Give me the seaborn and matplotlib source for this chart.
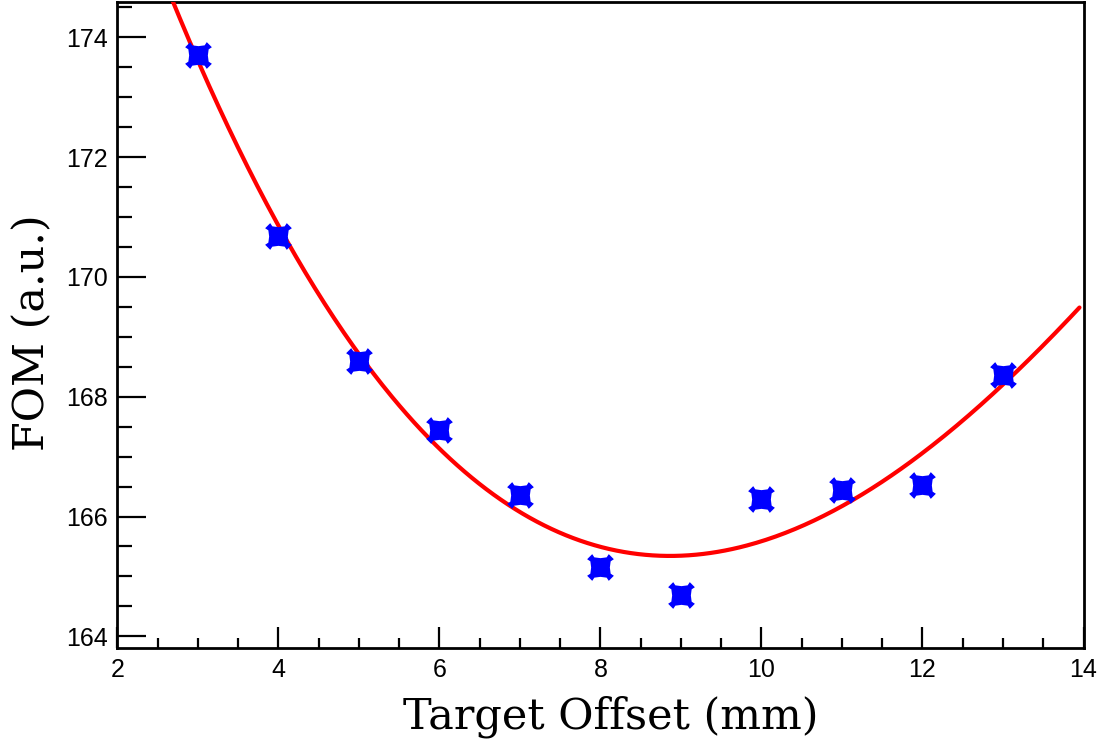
import numpy as np
import pandas as pd
import matplotlib
matplotlib.use("Agg")
import matplotlib.pyplot as plt
from matplotlib.path import Path
from matplotlib.ticker import MultipleLocator
import seaborn as sns

# Data
offset_mm = [3, 4, 5, 6, 7, 8, 9, 10, 11, 12, 13]
fom_au = [173.70, 170.69, 168.59, 167.45, 166.36, 165.15, 164.69, 166.30, 166.44, 166.53, 168.37]

x_label = "Target Offset (mm)"
y_label = "FOM (a.u.)"

df = pd.DataFrame({"offset": offset_mm, "fom": fom_au})

sns.set_theme(style="white")
plt.rcParams["font.family"] = ["Liberation Sans", "DejaVu Sans"]

# Filled ROOT-style "full X" marker: square body, concave sides, corner ears
quarter = [(0.0, 0.70), (0.46, 0.76), (0.62, 1.0), (1.0, 0.62), (0.76, 0.46)]
verts = []
for rot in range(4):
    c, s_ = np.cos(-rot * np.pi / 2), np.sin(-rot * np.pi / 2)
    for (px, py) in quarter:
        verts.append((px * c - py * s_, px * s_ + py * c))
verts.append(verts[0])
xmark = Path(verts, [Path.MOVETO] + [Path.LINETO] * (len(verts) - 2) + [Path.CLOSEPOLY])

fig = plt.figure(figsize=(11.07, 7.44), dpi=100)
ax = fig.add_axes([117.3 / 1107, 1 - 648.3 / 744, (1083.5 - 117.3) / 1107, (648.3 - 1.5) / 744])

# cubic fit to the data
coef = np.polyfit(df["offset"], df["fom"], 3)
xf = np.linspace(2.0, 13.95, 400)
fit_df = pd.DataFrame({"offset": xf, "fom": np.polyval(coef, xf)})
sns.lineplot(data=fit_df, x="offset", y="fom", ax=ax, color="#ff0000", lw=3.0, zorder=3)

sns.scatterplot(data=df, x="offset", y="fom", ax=ax, marker=xmark, s=370, color="#0000ff",
                edgecolor="#0000ff", linewidth=0, zorder=4)

ax.set_xlim(2, 14)
ax.set_ylim(163.80, 174.60)
ax.xaxis.set_major_locator(MultipleLocator(2))
ax.xaxis.set_minor_locator(MultipleLocator(0.5))
ax.yaxis.set_major_locator(MultipleLocator(2))
ax.yaxis.set_minor_locator(MultipleLocator(0.5))

ax.tick_params(axis="both", which="both", direction="in", color="black", width=1.6,
               labelsize=18, labelcolor="black", top=False, right=False)
ax.tick_params(axis="y", which="major", length=21, pad=7)
ax.tick_params(axis="y", which="minor", length=10.5)
ax.tick_params(axis="x", which="major", length=15, pad=7)
ax.tick_params(axis="x", which="minor", length=7.5)
ax.yaxis.set_tick_params(which="both", left=True)
ax.xaxis.set_tick_params(which="both", bottom=True)

for s in ax.spines.values():
    s.set_color("black")
    s.set_linewidth(2.0)

ax.set_xlabel(x_label, family="DejaVu Serif", fontsize=31, color="black")
ax.set_ylabel(y_label, family="DejaVu Serif", fontsize=31, color="black")
ax.xaxis.set_label_coords(0.5 + 10 / 966, -47 / 647, transform=ax.transAxes)
ax.yaxis.set_label_coords(-64 / 966, 0.5 - 8 / 647, transform=ax.transAxes)
ax.xaxis.label.set_va("top")

fig.savefig("out.png", dpi=100)
